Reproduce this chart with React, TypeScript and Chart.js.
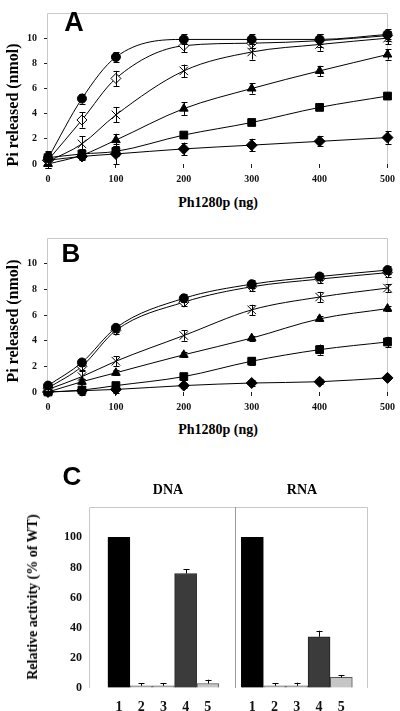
import React, { useEffect, useRef } from "react";
import { Chart, registerables } from "chart.js";

Chart.register(...registerables);

// ---------- DATA ----------
const doses = [0, 50, 100, 200, 300, 400, 500];
const xTickValues = [0, 100, 200, 300, 400, 500];
const yTickValuesAB = [0, 2, 4, 6, 8, 10];

// Panel A (nmol Pi released)
const aCircle = [0.45, 5.2, 8.5, 9.9, 9.9, 9.9, 10.3];
const aOpenDiamond = [0.3, 3.5, 6.8, 9.4, 9.6, 9.8, 10.2];
const aCross = [0.2, 1.6, 3.9, 7.4, 8.9, 9.5, 10.0];
const aTriangle = [0.0, 0.7, 1.9, 4.4, 6.0, 7.4, 8.7];
const aSquare = [0.5, 0.8, 1.0, 2.3, 3.3, 4.5, 5.4];
const aDiamond = [0.3, 0.6, 0.8, 1.2, 1.5, 1.8, 2.1];

const aCircleErr = [0.5, 0.4, 0.4, 0.4, 0.4, 0.4, 0.4];
const aOpenDiamondErr = [0.6, 0.6, 0.6, 0.5, 0.4, 0.5, 0.4];
const aCrossErr = [0.3, 0.6, 0.6, 0.5, 0.6, 0.5, 0.5];
const aTriangleErr = [0.3, 0.3, 0.5, 0.5, 0.4, 0.4, 0.4];
const aSquareErr = [0.5, 0.4, 0.4, 0.2, 0.2, 0.2, 0.2];
const aDiamondErr = [0.4, 0.3, 0.8, 0.5, 0.5, 0.4, 0.5];

// Panel B (nmol Pi released)
const bCircle = [0.5, 2.3, 5.0, 7.3, 8.4, 9.0, 9.5];
const bOpenDiamond = [0.3, 2.0, 4.8, 7.0, 8.2, 8.8, 9.3];
const bCross = [0.2, 1.2, 2.4, 4.4, 6.4, 7.4, 8.1];
const bTriangle = [0.0, 0.8, 1.5, 2.9, 4.2, 5.7, 6.5];
const bSquare = [0.0, 0.15, 0.5, 1.2, 2.4, 3.3, 3.9];
const bDiamond = [0.0, 0.1, 0.2, 0.5, 0.7, 0.8, 1.1];

const bCircleErr = [0.3, 0.3, 0.3, 0.3, 0.3, 0.3, 0.3];
const bOpenDiamondErr = [0.3, 0.4, 0.3, 0.3, 0.3, 0.3, 0.3];
const bCrossErr = [0.3, 0.5, 0.4, 0.4, 0.4, 0.4, 0.3];
const bTriangleErr = [0.2, 0.2, 0.2, 0.2, 0.2, 0.2, 0.2];
const bSquareErr = [0.1, 0.3, 0.2, 0.2, 0.3, 0.4, 0.4];
const bDiamondErr = [0.1, 0.3, 0.3, 0.2, 0.2, 0.2, 0.1];

// Panel C (relative activity, % of WT)
const lanes = ["1", "2", "3", "4", "5"];
const dnaValues = [100, 1.5, 1.5, 76, 3];
const dnaErrors = [0, 1.5, 1.5, 3, 2.5];
const rnaValues = [100, 1.5, 1.5, 34, 7];
const rnaErrors = [0, 1.5, 2, 4, 1.5];
const yTickValuesC = [0, 10, 20, 30, 40, 50, 60, 70, 80, 90, 100, 110];

// ---------- STYLE ----------
const SERIF = '"Liberation Serif", "Times New Roman", serif';
const SANS = '"Liberation Sans", Arial, sans-serif';
const FRAME = "#c8c8c8";

const markerStyles: any[] = [
  { pointStyle: "circle", pointRadius: 4.5, pointBackgroundColor: "#000" },
  { pointStyle: "rectRot", pointRadius: 5, pointBackgroundColor: "#fff" },
  { pointStyle: "crossRot", pointRadius: 6, pointBackgroundColor: "#000" },
  { pointStyle: "triangle", pointRadius: 5, pointBackgroundColor: "#000" },
  { pointStyle: "rect", pointRadius: 5.5, pointBackgroundColor: "#000" },
  { pointStyle: "rectRot", pointRadius: 5.5, pointBackgroundColor: "#000" },
];

const barColors = ["#000000", "#bdbdbd", "#bdbdbd", "#3b3b3b", "#c6c6c6"];

// ---------- PLUGINS ----------
const framePlugin = {
  id: "frame",
  beforeDatasetsDraw(chart: any, _args: any, opts: any) {
    if (!opts || !opts.show) return;
    const { left, right, top, bottom } = chart.chartArea;
    const ctx = chart.ctx;
    ctx.save();
    ctx.strokeStyle = opts.color || FRAME;
    ctx.lineWidth = 1;
    ctx.beginPath();
    ctx.moveTo(Math.round(left) - 0.5, bottom);
    ctx.lineTo(Math.round(left) - 0.5, Math.round(top) + 0.5);
    ctx.lineTo(Math.round(right) - 0.5, Math.round(top) + 0.5);
    ctx.lineTo(Math.round(right) - 0.5, bottom);
    ctx.stroke();
    if (opts.divider != null) {
      const x = Math.round(chart.scales.x.getPixelForValue(opts.divider)) + 0.5;
      ctx.strokeStyle = opts.dividerColor || "#999";
      ctx.beginPath();
      ctx.moveTo(x, Math.round(top));
      ctx.lineTo(x, bottom);
      ctx.stroke();
    }
    ctx.restore();
  },
};

const errorBarPlugin = {
  id: "errorBars",
  afterDatasetsDraw(chart: any, _args: any, opts: any) {
    const ctx = chart.ctx;
    const cap = (opts && opts.cap) || 3;
    const upOnly = opts && opts.upOnly;
    ctx.save();
    ctx.strokeStyle = "#000";
    ctx.lineWidth = 1;
    chart.data.datasets.forEach((ds: any, di: number) => {
      if (!ds.errors) return;
      const meta = chart.getDatasetMeta(di);
      const ys = chart.scales[meta.yAxisID];
      meta.data.forEach((el: any, i: number) => {
        const e = ds.errors[i];
        if (!e) return;
        const raw = ds.data[i];
        const v = typeof raw === "number" ? raw : raw.y;
        const x = Math.round(el.x) + 0.5;
        const yTop = ys.getPixelForValue(v + e);
        const yBot = upOnly ? ys.getPixelForValue(v) : ys.getPixelForValue(v - e);
        ctx.beginPath();
        ctx.moveTo(x, yTop);
        ctx.lineTo(x, yBot);
        ctx.moveTo(x - cap, Math.round(yTop) + 0.5);
        ctx.lineTo(x + cap, Math.round(yTop) + 0.5);
        if (!upOnly) {
          ctx.moveTo(x - cap, Math.round(yBot) + 0.5);
          ctx.lineTo(x + cap, Math.round(yBot) + 0.5);
        }
        ctx.stroke();
      });
    });
    ctx.restore();
  },
};

// ---------- CONFIG BUILDERS ----------
function lineConfig(values: number[][], errors: number[][], padTop: number, padRight: number) {
  return {
    type: "line",
    data: {
      datasets: values.map((vals, k) => ({
        data: doses.map((d, i) => ({ x: d, y: vals[i] })),
        errors: errors[k],
        borderColor: "#000",
        borderWidth: 1,
        cubicInterpolationMode: "monotone",
        fill: false,
        clip: false,
        pointBorderColor: "#000",
        pointBorderWidth: 1,
        ...markerStyles[k],
      })),
    },
    options: {
      animation: false,
      responsive: false,
      maintainAspectRatio: false,
      events: [],
      layout: { padding: { top: padTop, right: padRight, left: 0, bottom: 0 } },
      plugins: {
        legend: { display: false },
        tooltip: { enabled: false },
        frame: { show: true, color: FRAME },
        errorBars: { cap: 3 },
      },
      scales: {
        x: {
          type: "linear",
          min: 0,
          max: 500,
          afterBuildTicks: (s: any) => {
            s.ticks = xTickValues.map((v) => ({ value: v }));
          },
          afterFit: (s: any) => {
            s.height = 26;
          },
          border: { display: false },
          grid: { display: true, drawOnChartArea: false, drawTicks: true, tickLength: 4, tickColor: "#222" },
          ticks: {
            font: { family: SERIF, weight: "bold", size: 10 },
            color: "#111",
            padding: 5,
            maxRotation: 0,
            autoSkip: false,
          },
        },
        y: {
          min: 0,
          max: 12,
          afterBuildTicks: (s: any) => {
            s.ticks = yTickValuesAB.map((v) => ({ value: v }));
          },
          afterFit: (s: any) => {
            s.width = 48;
          },
          border: { display: false },
          grid: { display: true, drawOnChartArea: false, drawTicks: true, tickLength: 4, tickColor: "#222" },
          ticks: {
            font: { family: SERIF, weight: "bold", size: 10 },
            color: "#111",
            padding: 7,
          },
        },
      },
    },
    plugins: [framePlugin, errorBarPlugin],
  };
}

const DNA_OFFSET = 0.8;
const RNA_OFFSET = 6.8;
const DIVIDER = 6.52;
const X_MAX_C = 12.5;

function barConfig() {
  const centers = [
    ...lanes.map((_, i) => DNA_OFFSET + i + 0.5),
    ...lanes.map((_, i) => RNA_OFFSET + i + 0.5),
  ];
  const common = {
    backgroundColor: barColors,
    borderColor: ["#000", "#555", "#555", "#222", "#555"],
    borderWidth: 1,
    barThickness: 22,
    grouped: false,
  };
  return {
    type: "bar",
    data: {
      datasets: [
        {
          label: "DNA",
          data: dnaValues.map((v, i) => ({ x: DNA_OFFSET + i + 0.5, y: v })),
          errors: dnaErrors,
          ...common,
        },
        {
          label: "RNA",
          data: rnaValues.map((v, i) => ({ x: RNA_OFFSET + i + 0.5, y: v })),
          errors: rnaErrors,
          ...common,
        },
      ],
    },
    options: {
      animation: false,
      responsive: false,
      maintainAspectRatio: false,
      events: [],
      layout: { padding: { top: 8, right: 32, left: 0, bottom: 0 } },
      plugins: {
        legend: { display: false },
        tooltip: { enabled: false },
        frame: { show: true, color: FRAME, divider: DIVIDER, dividerColor: "#9a9a9a" },
        errorBars: { cap: 3, upOnly: true },
      },
      scales: {
        x: {
          type: "linear",
          min: 0,
          max: X_MAX_C,
          offset: false,
          afterBuildTicks: (s: any) => {
            s.ticks = centers.map((v) => ({ value: v }));
          },
          afterFit: (s: any) => {
            s.height = 23;
          },
          border: { display: false },
          grid: { display: false, offset: false },
          ticks: {
            callback: (_v: any, i: number) => lanes[i % lanes.length],
            font: { family: SERIF, weight: "bold", size: 14 },
            color: "#111",
            padding: 3,
            maxRotation: 0,
            autoSkip: false,
          },
        },
        y: {
          min: 0,
          max: 120,
          afterBuildTicks: (s: any) => {
            s.ticks = yTickValuesC.map((v) => ({ value: v }));
          },
          afterFit: (s: any) => {
            s.width = 90;
          },
          border: { display: false },
          grid: {
            display: true,
            drawOnChartArea: false,
            drawTicks: true,
            tickLength: 3,
            tickColor: (c: any) => (c.tick && c.tick.value % 20 === 0 ? "rgba(0,0,0,0)" : "#555"),
          },
          ticks: {
            callback: (v: any) => (v % 20 === 0 ? String(v) : ""),
            font: { family: SERIF, weight: "bold", size: 12 },
            color: "#111",
            padding: 5,
          },
        },
      },
    },
    plugins: [framePlugin, errorBarPlugin],
  };
}

// ---------- COMPONENTS ----------
function ChartCanvas({ left, top, width, height, makeConfig }: any) {
  const ref = useRef<HTMLCanvasElement>(null);
  useEffect(() => {
    const chart = new Chart(ref.current as HTMLCanvasElement, makeConfig());
    return () => chart.destroy();
  }, []);
  return (
    <canvas
      ref={ref}
      width={width}
      height={height}
      style={{ position: "absolute", left, top, width, height }}
    />
  );
}

function Label({ x, y, text, size, family = SERIF, rotate = false }: any) {
  return (
    <div
      style={{
        position: "absolute",
        left: x,
        top: y,
        transform: `translate(-50%, -50%)${rotate ? " rotate(-90deg)" : ""}`,
        fontFamily: family,
        fontWeight: "bold",
        fontSize: size,
        lineHeight: 1,
        whiteSpace: "nowrap",
        color: "#000",
      }}
    >
      {text}
    </div>
  );
}

export default function App() {
  return (
    <div
      style={{
        position: "absolute",
        left: 0,
        top: 0,
        width: 400,
        height: 711,
        background: "#fff",
        overflow: "hidden",
      }}
    >
      <ChartCanvas
        left={0}
        top={0}
        width={400}
        height={190}
        makeConfig={() =>
          lineConfig(
            [aCircle, aOpenDiamond, aCross, aTriangle, aSquare, aDiamond],
            [aCircleErr, aOpenDiamondErr, aCrossErr, aTriangleErr, aSquareErr, aDiamondErr],
            1,
            7
          )
        }
      />
      <ChartCanvas
        left={0}
        top={225}
        width={400}
        height={193}
        makeConfig={() =>
          lineConfig(
            [bCircle, bOpenDiamond, bCross, bTriangle, bSquare, bDiamond],
            [bCircleErr, bOpenDiamondErr, bCrossErr, bTriangleErr, bSquareErr, bDiamondErr],
            7,
            10
          )
        }
      />
      <ChartCanvas left={0} top={495} width={400} height={216} makeConfig={barConfig} />

      <Label x={74} y={22} text="A" size={27} family={SANS} />
      <Label x={71} y={253} text="B" size={26} family={SANS} />
      <Label x={72} y={476} text="C" size={26} family={SANS} />

      <Label x={13} y={105} text="Pi released (nmol)" size={16} rotate />
      <Label x={13} y={321} text="Pi released (nmol)" size={16} rotate />
      <Label x={218} y={203} text="Ph1280p (ng)" size={14} />
      <Label x={218} y={430} text="Ph1280p (ng)" size={14} />

      <Label x={168} y={490} text="DNA" size={14} />
      <Label x={302} y={490} text="RNA" size={14} />
      <Label x={33} y={597} text="Relative activity (% of WT)" size={14} rotate />
    </div>
  );
}
